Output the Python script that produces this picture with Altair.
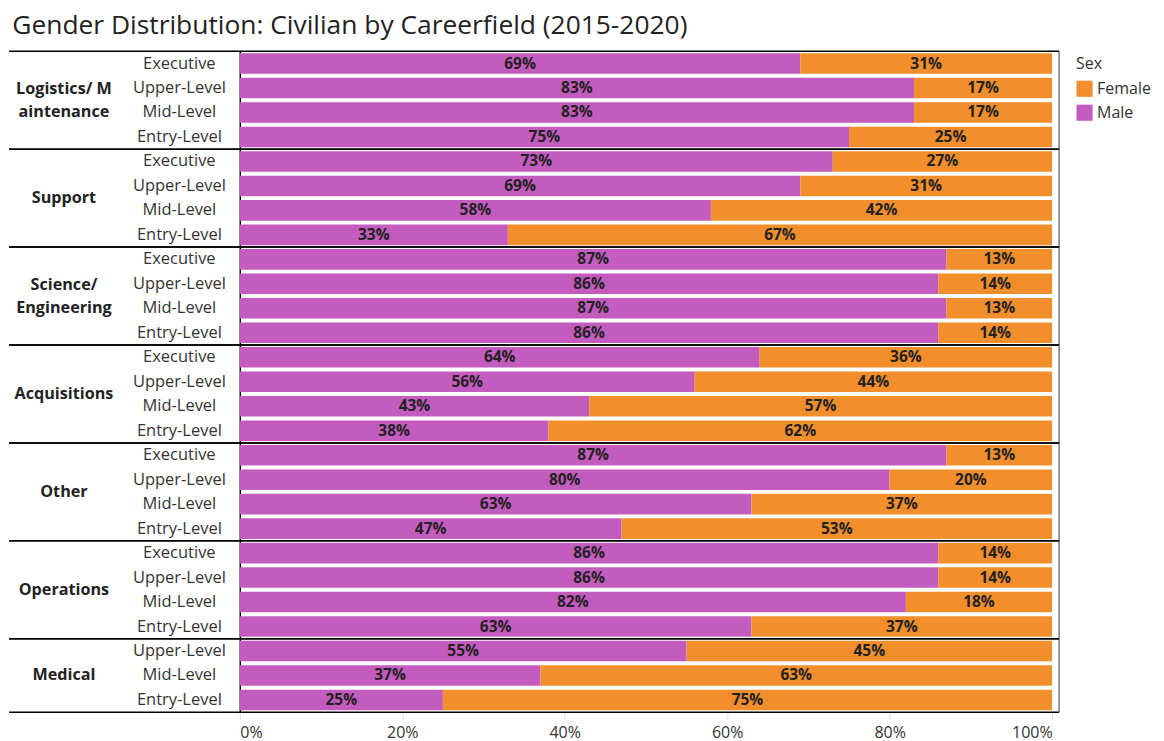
import altair as alt
import pandas as pd

title_text = "Gender Distribution: Civilian by Careerfield (2015-2020)"
careerfields = ["Logistics/ M|aintenance", "Support", "Science/|Engineering",
                "Acquisitions", "Other", "Operations", "Medical"]
levels = ["Executive", "Upper-Level", "Mid-Level", "Entry-Level"]
medical_levels = ["Upper-Level", "Mid-Level", "Entry-Level"]

male_logistics = [69, 83, 83, 75]
female_logistics = [31, 17, 17, 25]
male_support = [73, 69, 58, 33]
female_support = [27, 31, 42, 67]
male_science = [87, 86, 87, 86]
female_science = [13, 14, 13, 14]
male_acquisitions = [64, 56, 43, 38]
female_acquisitions = [36, 44, 57, 62]
male_other = [87, 80, 63, 47]
female_other = [13, 20, 37, 53]
male_operations = [86, 86, 82, 63]
female_operations = [14, 14, 18, 37]
male_medical = [55, 37, 25]
female_medical = [45, 63, 75]

groups = [
    (careerfields[0], levels, male_logistics, female_logistics),
    (careerfields[1], levels, male_support, female_support),
    (careerfields[2], levels, male_science, female_science),
    (careerfields[3], levels, male_acquisitions, female_acquisitions),
    (careerfields[4], levels, male_other, female_other),
    (careerfields[5], levels, male_operations, female_operations),
    (careerfields[6], medical_levels, male_medical, female_medical),
]

rows = []
for cf, lv, m, f in groups:
    for lvl, mv, fv in zip(lv, m, f):
        rows.append({"Careerfield": cf, "Level": lvl, "Sex": "Male", "pct": mv, "ord": 0,
                     "nlev": len(lv)})
        rows.append({"Careerfield": cf, "Level": lvl, "Sex": "Female", "pct": fv, "ord": 1,
                     "nlev": len(lv)})
df = pd.DataFrame(rows)
df["frac"] = df["pct"] / 100.0

FONT = "Open Sans"
ORANGE = "#F28E2B"
PURPLE = "#C45BBF"
TXT = "#333333"
PLOT_W = 813
LEFT = -231
RIGHT = 820
LABEL_X = -176
LINE_H = 23

xscale = alt.Scale(domain=[0, 1], nice=False)

bars = alt.Chart().mark_bar().encode(
    x=alt.X("frac:Q", stack="zero", scale=xscale,
            axis=alt.Axis(format=".0%", values=[0, 0.2, 0.4, 0.6, 0.8, 1.0], title=None,
                          grid=False, labelFlush=True, domain=False, tickColor="#dddddd",
                          tickSize=7, labelPadding=5, labelFontSize=16, labelFont=FONT,
                          labelColor=TXT)),
    y=alt.Y("Level:N", sort=levels,
            scale=alt.Scale(paddingInner=0.16, paddingOuter=0.08),
            axis=alt.Axis(title=None, labelAlign="center", labelPadding=61, ticks=False,
                          tickSize=0, domainColor="black", domainWidth=1.5,
                          labelFontSize=16.5, labelFont=FONT, labelColor=TXT)),
    color=alt.Color("Sex:N", scale=alt.Scale(domain=["Female", "Male"], range=[ORANGE, PURPLE]),
                    legend=alt.Legend(title="Sex", titleFontSize=16, titleFontWeight="normal",
                                      titleFont=FONT, labelFont=FONT, labelFontSize=16,
                                      symbolType="square", symbolSize=260, symbolStrokeWidth=0,
                                      titleColor=TXT, labelColor=TXT, offset=11, padding=5,
                                      rowPadding=7, titlePadding=8)),
    order=alt.Order("ord:Q"),
)

text = alt.Chart().transform_stack(
    stack="frac", groupby=["Careerfield", "Level"], as_=["x0", "x1"],
    sort=[alt.SortField("ord", order="ascending")],
).transform_calculate(
    mid="(datum.x0 + datum.x1) / 2",
    lbl="format(datum.frac, '.0%')",
).mark_text(fontWeight="bold", fontSize=15.5, font=FONT, color="#222222").encode(
    x=alt.X("mid:Q", scale=xscale),
    y=alt.Y("Level:N", sort=levels),
    text="lbl:N",
)


def cf_label(cond, band_pos, y_off):
    return alt.Chart().transform_filter(
        "datum.Sex == 'Male' && datum.Level == 'Mid-Level' && " + cond
    ).transform_calculate(lines="split(datum.Careerfield, '|')").mark_text(
        fontWeight="bold", fontSize=16.2, font=FONT, color="#222222", align="center",
        baseline="middle", lineHeight=LINE_H, yOffset=y_off
    ).encode(
        x=alt.value(LABEL_X),
        y=alt.Y("Level:N", sort=levels, bandPosition=band_pos),
        text="lines:N",
    )


# careerfield labels: one datum per group, centred on the group
cf_one4 = cf_label("datum.nlev == 4 && indexof(datum.Careerfield, '|') < 0", 0, -2)
cf_two4 = cf_label("datum.nlev == 4 && indexof(datum.Careerfield, '|') >= 0", 0, -2 - LINE_H / 2)
cf_one3 = cf_label("datum.nlev == 3", 0.5, 0)

one = "datum.Sex == 'Male' && datum.Level == 'Entry-Level'"
top_rule = alt.Chart().transform_filter(one).mark_rule(color="black", strokeWidth=1.5).encode(
    x=alt.value(LEFT), x2=alt.value(RIGHT), y=alt.value(0))
bottom_rule = alt.Chart().transform_filter(one).mark_rule(color="black", strokeWidth=1.5).encode(
    x=alt.value(LEFT), x2=alt.value(RIGHT), y=alt.value("height"))
right_rule = alt.Chart().transform_filter(one).mark_rule(color="#555555", strokeWidth=1.2).encode(
    x=alt.value(RIGHT), y=alt.value(0), y2=alt.value("height"))

layered = alt.layer(bars, text, cf_one4, cf_two4, cf_one3,
                    top_rule, bottom_rule, right_rule).properties(
    width=PLOT_W, height=alt.Step(24.5))

chart = alt.FacetChart(
    data=df,
    spec=layered,
    facet=alt.FacetMapping(row=alt.Facet(
        "Careerfield:N", sort=careerfields, title=None,
        header=alt.Header(labels=False, title=None))),
    spacing=0,
    bounds="flush",
).resolve_scale(y="independent").properties(
    title=alt.TitleParams(title_text, anchor="start", fontSize=26.4, font=FONT,
                          fontWeight="normal", color="#222222", offset=11, dx=4),
    padding={"left": 0, "top": 4, "right": 0, "bottom": 20},
).configure_view(stroke=None)

chart.save("out.html", embed_options={"renderer": "svg", "actions": False})
